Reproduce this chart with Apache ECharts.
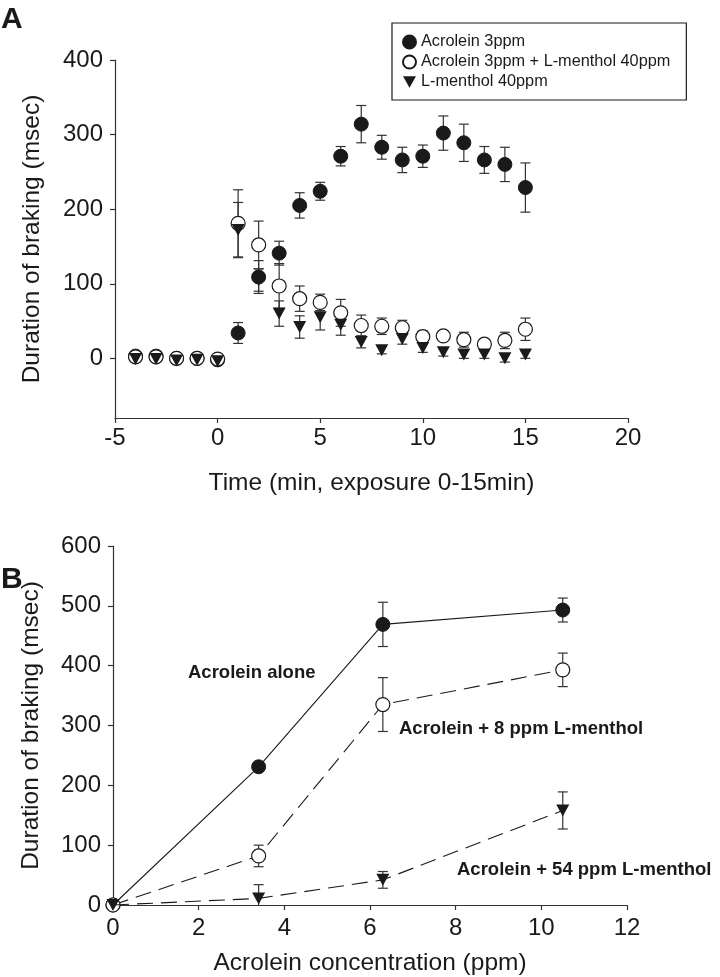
<!DOCTYPE html>
<html>
<head>
<meta charset="utf-8">
<script src="https://cdn.jsdelivr.net/npm/echarts@6/dist/echarts.min.js"></script>
<style>
html,body{margin:0;padding:0;background:#fff;}
#chart{width:720px;height:977px;}
</style>
</head>
<body>
<div id="chart"></div>
<script>
// ---------- Panel A data ----------
const timeMin = [-4,-3,-2,-1,0,1,2,3,4,5,6,7,8,9,10,11,12,13,14,15];
const acroleinMean = [3,3,0,0,-2,34,109,141,205,224,271,314,283,266,271,302,289,266,260,229];
const acroleinSem  = [4,4,3,3,3,14,22,16,17,12,13,25,16,17,15,23,25,18,23,33];
const acrMentholMean = [2,2,0,0,-1,181,152,97,80,75,61,44,43,41,29,30,25,19,24,39];
const acrMentholSem  = [3,3,3,3,3,45,32,30,17,11,18,14,11,10,8,6,10,6,11,15];
const mentholMean = [-1,-1,-3,-2,-4,172,105,60,42,55,45,22,11,26,14,8,5,5,0,5];
const mentholSem  = [3,3,3,3,3,37,15,17,15,17,14,8,5,7,6,5,5,5,5,5];
const seriesNamesA = ['Acrolein 3ppm','Acrolein 3ppm + L-menthol 40ppm','L-menthol 40ppm'];
const yTicksA = [0,100,200,300,400];

// ---------- Panel B data ----------
const concPpm = [0, 3.4, 6.3, 10.5];
const aloneMean = [0, 231, 469, 493];
const aloneSem  = [0, 6, 37, 20];
const menthol8Mean = [0, 82, 335, 393];
const menthol8Sem  = [0, 18, 45, 28];
const menthol54Mean = [0, 11, 42, 158];
const menthol54Sem  = [0, 23, 14, 31];
const labelsB = ['Acrolein alone','Acrolein + 8 ppm L-menthol','Acrolein + 54 ppm L-menthol'];

const FONT = '"Liberation Sans", Arial, sans-serif';
const INK = '#1a1a1a';
const AXIS = '#333';
const TRI = 'path://M0,0L10,0L5,9Z';

function pts(xs, ys){ return xs.map((x,i)=>[x, ys[i]]); }
function errs(xs, m, s){ return xs.map((x,i)=>[x, m[i]-s[i], m[i]+s[i]]); }

function errRender(params, api){
  const x = api.value(0), lo = api.value(1), hi = api.value(2);
  const a = api.coord([x, hi]), b = api.coord([x, lo]);
  const w = 5;
  const st = {stroke: AXIS, lineWidth: 1.2};
  return {type:'group', children:[
    {type:'line', shape:{x1:a[0], y1:a[1], x2:b[0], y2:b[1]}, style:st},
    {type:'line', shape:{x1:a[0]-w, y1:a[1], x2:a[0]+w, y2:a[1]}, style:st},
    {type:'line', shape:{x1:b[0]-w, y1:b[1], x2:b[0]+w, y2:b[1]}, style:st}
  ]};
}
function errSeries(xi, yi, data, clip){
  return {type:'custom', xAxisIndex:xi, yAxisIndex:yi, renderItem:errRender, data:data,
    clip: !!clip, z:1, silent:true, encode:{x:0, y:[1,2]}};
}

const axisLineStyle = {show:true, onZero:false, lineStyle:{color:AXIS, width:1.2}};
const tickStyle = {show:true, length:5, lineStyle:{color:AXIS, width:1.2}};
const labelStyle = {color:INK, fontSize:24, fontFamily:FONT};
const nameStyle = {color:INK, fontSize:24.5, fontFamily:FONT};

const chart = echarts.init(document.getElementById('chart'), null, {renderer:'canvas'});

const option = {
  backgroundColor:'#fff',
  animation:false,
  grid:[
    {left:115, top:60, width:513, height:358},
    {left:113, top:546, width:514, height:360}
  ],
  xAxis:[
    {gridIndex:0, type:'value', min:-5, max:20, interval:5,
     axisLine:axisLineStyle, axisTick:tickStyle, splitLine:{show:false},
     axisLabel:Object.assign({margin:8}, labelStyle),
     name:'Time (min, exposure 0-15min)', nameLocation:'middle', nameGap:53, nameTextStyle:nameStyle},
    {gridIndex:1, type:'value', min:0, max:12, interval:2,
     axisLine:axisLineStyle, axisTick:tickStyle, splitLine:{show:false},
     axisLabel:Object.assign({margin:11}, labelStyle),
     name:'Acrolein concentration (ppm)', nameLocation:'middle', nameGap:46, nameTextStyle:nameStyle}
  ],
  yAxis:[
    {gridIndex:0, type:'value', min:-80, max:400,
     axisLine:axisLineStyle,
     axisTick:Object.assign({customValues:yTicksA}, tickStyle),
     splitLine:{show:false},
     axisLabel:Object.assign({margin:12, customValues:yTicksA}, labelStyle),
     name:'Duration of braking (msec)', nameLocation:'middle', nameGap:70, nameRotate:90, nameTextStyle:nameStyle},
    {gridIndex:1, type:'value', min:0, max:600, interval:100,
     axisLine:axisLineStyle, axisTick:tickStyle, splitLine:{show:false},
     axisLabel:Object.assign({margin:12}, labelStyle),
     name:'Duration of braking (msec)', nameLocation:'middle', nameGap:69, nameRotate:90, nameTextStyle:nameStyle}
  ],
  legend:{
    orient:'vertical', left:392, top:23,
    padding:[11,16,10,10], itemGap:4, itemWidth:13, itemHeight:13,
    borderColor:INK, borderWidth:1.2, backgroundColor:'#fff',
    textStyle:{fontSize:16.3, fontFamily:FONT, color:INK},
    data:[
      {name:seriesNamesA[0], icon:'circle'},
      {name:seriesNamesA[1], icon:'circle'},
      {name:seriesNamesA[2], icon:TRI}
    ]
  },
  series:[
    // panel A error bars
    errSeries(0,0, errs(timeMin, acroleinMean, acroleinSem)),
    errSeries(0,0, errs(timeMin, acrMentholMean, acrMentholSem)),
    errSeries(0,0, errs(timeMin, mentholMean, mentholSem)),
    // panel A markers
    {name:seriesNamesA[0], type:'scatter', xAxisIndex:0, yAxisIndex:0, symbol:'circle', symbolSize:14,
     itemStyle:{color:INK, borderColor:INK, borderWidth:1, opacity:1}, z:3,
     data:pts(timeMin, acroleinMean)},
    {name:seriesNamesA[1], type:'scatter', xAxisIndex:0, yAxisIndex:0, symbol:'circle', symbolSize:14,
     itemStyle:{color:'#fff', borderColor:INK, borderWidth:1.2, opacity:1}, z:4,
     data:pts(timeMin, acrMentholMean)},
    {name:seriesNamesA[2], type:'scatter', xAxisIndex:0, yAxisIndex:0, symbol:TRI, symbolSize:[13,12],
     itemStyle:{color:INK, opacity:1}, z:5,
     data:pts(timeMin, mentholMean)},
    // panel B error bars
    errSeries(1,1, errs(concPpm, aloneMean, aloneSem), true),
    errSeries(1,1, errs(concPpm, menthol8Mean, menthol8Sem), true),
    errSeries(1,1, errs(concPpm, menthol54Mean, menthol54Sem), true),
    // panel B lines
    {name:labelsB[0], type:'line', xAxisIndex:1, yAxisIndex:1, symbol:'circle', symbolSize:14, clip:false,
     lineStyle:{color:INK, width:1.1, type:'solid'},
     itemStyle:{color:INK, borderColor:INK, borderWidth:1}, z:3,
     data:pts(concPpm, aloneMean)},
    {name:labelsB[1], type:'line', xAxisIndex:1, yAxisIndex:1, symbol:'circle', symbolSize:14, clip:false,
     showAllSymbol:true,
     lineStyle:{color:INK, width:1.1, type:[16,8]},
     itemStyle:{color:'#fff', borderColor:INK, borderWidth:1.2}, z:4,
     data:pts(concPpm, menthol8Mean)},
    {name:labelsB[2], type:'line', xAxisIndex:1, yAxisIndex:1, symbol:TRI, symbolSize:[13,12], clip:false,
     lineStyle:{color:INK, width:1.1, type:[16,8]},
     itemStyle:{color:INK}, z:5,
     data:pts(concPpm, menthol54Mean)}
  ],
  graphic:[
    {type:'text', left:1, top:5, style:{text:'A', fontSize:30, fontWeight:'bold', fontFamily:FONT, fill:INK}},
    {type:'text', left:1, top:565, style:{text:'B', fontSize:30, fontWeight:'bold', fontFamily:FONT, fill:INK}},
    {type:'text', left:188, top:663, style:{text:labelsB[0], fontSize:18.5, fontWeight:'bold', fontFamily:FONT, fill:INK}},
    {type:'text', left:399, top:719, style:{text:labelsB[1], fontSize:18.5, fontWeight:'bold', fontFamily:FONT, fill:INK}},
    {type:'text', left:457, top:860, style:{text:labelsB[2], fontSize:18.5, fontWeight:'bold', fontFamily:FONT, fill:INK}}
  ]
};
chart.setOption(option);
</script>
</body>
</html>
